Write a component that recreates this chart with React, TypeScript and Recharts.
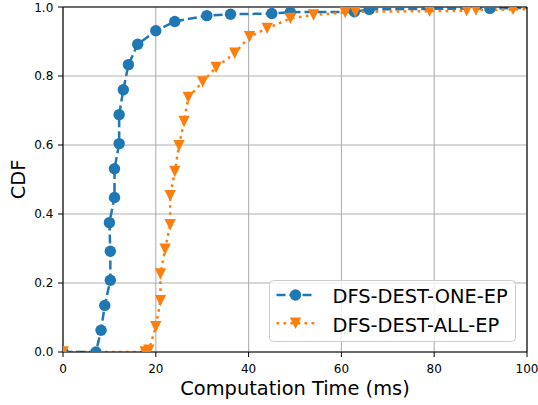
import React from 'react';
import {
  LineChart,
  Line,
  XAxis,
  YAxis,
  CartesianGrid,
  ReferenceLine,
  Legend,
} from 'recharts';

// computation time (ms) and cumulative fraction
const oneEpTime = [0, 7.1, 8.2, 9.0, 10.2, 10.2, 10.0, 11.1, 11.1, 12.1, 12.1, 13.0, 14.1, 16.1, 20.0, 24.1, 31.0, 36.1, 45.0, 49.0, 62.8, 66.0, 92.0, 120];
const oneEpCdf = [0, 0, 0.063, 0.135, 0.208, 0.292, 0.375, 0.448, 0.531, 0.604, 0.688, 0.76, 0.833, 0.892, 0.931, 0.958, 0.975, 0.979, 0.981, 0.985, 0.986, 0.993, 0.996, 1.0];

const allEpTime = [0, 17.7, 18.5, 20.0, 21.0, 21.0, 22.0, 23.1, 23.1, 24.1, 25.0, 26.1, 27.0, 30.1, 33.0, 37.0, 40.2, 44.0, 49.0, 54.0, 60.8, 63.0, 79.0, 87.0, 89.0, 97.0, 120];
const allEpCdf = [0, 0, 0.005, 0.073, 0.149, 0.226, 0.298, 0.369, 0.453, 0.523, 0.598, 0.668, 0.738, 0.783, 0.825, 0.866, 0.914, 0.938, 0.967, 0.977, 0.984, 0.986, 0.988, 0.989, 0.991, 0.993, 1.0];

const xTicks = [0, 20, 40, 60, 80, 100];
const yTicks = [0, 0.2, 0.4, 0.6, 0.8, 1.0];
const seriesNames = ['DFS-DEST-ONE-EP', 'DFS-DEST-ALL-EP'];

const BLUE = '#1f77b4';
const ORANGE = '#ff7f0e';
const FONT = '"DejaVu Sans", Verdana, sans-serif';
const MARK = 5.7;

const oneEp = oneEpTime.map((x, i) => ({ x, y: oneEpCdf[i] }));
const allEp = allEpTime.map((x, i) => ({ x, y: allEpCdf[i] }));

const circleDot = (props: any) => (
  <circle key={`c-${props.index}`} cx={props.cx} cy={props.cy} r={MARK} fill={BLUE} />
);

const triPath = (cx: number, cy: number, s: number) =>
  `M${cx - s},${cy - s}L${cx + s},${cy - s}L${cx},${cy + s}Z`;

const triangleDot = (props: any) => (
  <path key={`t-${props.index}`} d={triPath(props.cx, props.cy, MARK)} fill={ORANGE} />
);

function LegendBox() {
  return (
    <svg width={248} height={63} style={{ display: 'block' }}>
      <rect x={0.5} y={0.5} width={246} height={61} rx={4} fill="#fff" fillOpacity={0.8} stroke="#cccccc" />
      <line x1={7.5} x2={45.5} y1={15} y2={15} stroke={BLUE} strokeWidth={2.5} strokeDasharray="9 4" />
      <circle cx={26.5} cy={15} r={MARK} fill={BLUE} />
      <text x={63.5} y={23.3} fontSize={19.4} fontFamily={FONT} fill="#000">{seriesNames[0]}</text>
      <line x1={7.5} x2={45.5} y1={43.3} y2={43.3} stroke={ORANGE} strokeWidth={2.5} strokeDasharray="2.7 4.3" />
      <path d={triPath(26.5, 43.3, MARK)} fill={ORANGE} />
      <text x={63.5} y={51.7} fontSize={19.4} fontFamily={FONT} fill="#000">{seriesNames[1]}</text>
    </svg>
  );
}

export default function App() {
  return (
    <div style={{ position: 'absolute', left: 0, top: 0, background: '#fff', fontFamily: FONT }}>
      <LineChart width={538} height={405} margin={{ top: 7, right: 11, left: 0, bottom: 0 }}>
        <CartesianGrid stroke="#b0b0b0" strokeWidth={1.1} horizontalValues={yTicks} verticalValues={xTicks} />
        <XAxis
          type="number"
          dataKey="x"
          domain={[0, 100]}
          ticks={xTicks}
          allowDataOverflow
          height={53}
          tickSize={5}
          tickMargin={7.5}
          tick={{ fill: '#000', fontSize: 12, fontFamily: FONT }}
          tickLine={{ stroke: '#000' }}
          axisLine={{ stroke: '#000', strokeWidth: 1.1 }}
          label={{
            content: (p: any) => (
              <text
                x={p.viewBox.x + p.viewBox.width / 2}
                y={p.viewBox.y + 43}
                textAnchor="middle"
                fontSize={19.4}
                fontFamily={FONT}
                fill="#000"
              >
                Computation Time (ms)
              </text>
            ),
          }}
        />
        <YAxis
          type="number"
          domain={[0, 1]}
          ticks={yTicks}
          allowDataOverflow
          width={63}
          tickSize={5}
          tickMargin={4.7}
          tickFormatter={(v: number) => v.toFixed(1)}
          tick={{ fill: '#000', fontSize: 12, fontFamily: FONT }}
          tickLine={{ stroke: '#000' }}
          axisLine={{ stroke: '#000', strokeWidth: 1.1 }}
          label={{
            content: (p: any) => {
              const cy = p.viewBox.y + p.viewBox.height / 2;
              return (
                <text
                  x={25}
                  y={cy}
                  transform={`rotate(-90, 25, ${cy})`}
                  textAnchor="middle"
                  fontSize={19.4}
                  fontFamily={FONT}
                  fill="#000"
                >
                  CDF
                </text>
              );
            },
          }}
        />
        <Line
          data={oneEp}
          dataKey="y"
          type="linear"
          stroke={BLUE}
          strokeWidth={2.5}
          strokeDasharray="9 4"
          dot={circleDot}
          activeDot={false}
          isAnimationActive={false}
        />
        <Line
          data={allEp}
          dataKey="y"
          type="linear"
          stroke={ORANGE}
          strokeWidth={2.5}
          strokeDasharray="2.7 4.3"
          dot={triangleDot}
          activeDot={false}
          isAnimationActive={false}
        />
        <ReferenceLine y={1} stroke="#000" strokeWidth={1.1} />
        <ReferenceLine x={100} stroke="#000" strokeWidth={1.1} />
        <Legend
          layout="horizontal"
          verticalAlign="middle"
          align="center"
          content={() => <LegendBox />}
          wrapperStyle={{ left: 269, top: 280, width: 248, height: 63 }}
        />
      </LineChart>
    </div>
  );
}
